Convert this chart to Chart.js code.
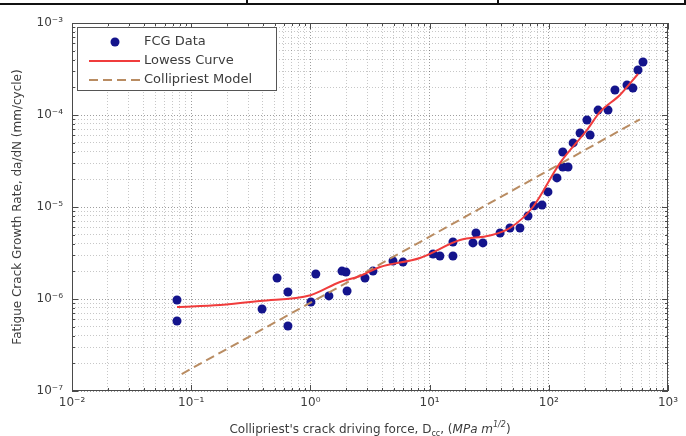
<!DOCTYPE html>
<html>
<head>
<meta charset="utf-8">
<script src="https://cdn.jsdelivr.net/npm/chart.js@4.4.1/dist/chart.umd.min.js"></script>
<style>
  body { margin: 0; background: #fff; }
  #wrap { position: relative; width: 686px; height: 436px; overflow: hidden; }
  .rule { position: absolute; background: #111; }
</style>
</head>
<body>
<div id="wrap">
  <canvas id="fcgChart" width="686" height="436"></canvas>
  <div class="rule" style="left:0;top:3px;width:686px;height:2px"></div>
  <div class="rule" style="left:246px;top:0;width:2px;height:4px"></div>
  <div class="rule" style="left:497px;top:0;width:2px;height:4px"></div>
  <div class="rule" style="left:684px;top:0;width:2px;height:4px"></div>
</div>
<script>
  var fcgX = [0.076, 0.076, 0.393, 0.525, 0.648, 0.648, 1.11, 1.01, 1.43, 1.84, 1.99, 2.03,
    2.87, 3.35, 4.93, 5.98, 10.7, 12.2, 15.7, 15.7, 23.1, 24.5, 28.0, 39.0, 47.2, 57.3,
    66.9, 75.2, 87.7, 98.4, 117, 131, 145, 131, 160, 183, 222, 209, 259, 314, 359, 453,
    508, 560, 617];
  var fcgY = [9.75e-7, 5.77e-7, 7.78e-7, 1.69e-6, 1.19e-6, 5.09e-7, 1.87e-6, 9.27e-7,
    1.08e-6, 2.01e-6, 1.96e-6, 1.22e-6, 1.69e-6, 2.01e-6, 2.59e-6, 2.52e-6, 3.08e-6,
    2.93e-6, 4.17e-6, 2.93e-6, 4.07e-6, 5.21e-6, 4.07e-6, 5.21e-6, 5.91e-6, 5.91e-6,
    7.98e-6, 1.03e-5, 1.05e-5, 1.46e-5, 2.07e-5, 2.72e-5, 2.72e-5, 3.96e-5, 4.97e-5,
    6.37e-5, 6.06e-5, 8.83e-5, 1.13e-4, 1.13e-4, 1.87e-4, 2.12e-4, 1.96e-4, 3.08e-4,
    3.77e-4];

  var lowessX = [0.076, 0.175, 0.378, 1.0, 1.77, 2.61, 3.84, 8.3, 18.0, 32.1, 47.2, 73.6,
    124, 209, 269, 395, 560];
  var lowessY = [8.18e-7, 8.6e-7, 9.5e-7, 1.10e-6, 1.53e-6, 1.78e-6, 2.23e-6, 2.79e-6,
    4.37e-6, 4.9e-6, 5.91e-6, 1.0e-5, 3.0e-5, 6.87e-5, 1.08e-4, 1.65e-4, 2.79e-4];

  var modelX = [0.0832, 5.30, 582];
  var modelY = [1.53e-7, 3.01e-6, 8.97e-5];

  var xDecades = [-2, -1, 0, 1, 2, 3];
  var yDecades = [-7, -6, -5, -4, -3];

  var textColor = "#3c3c3c";
  Chart.defaults.font.family = '"DejaVu Sans", sans-serif';
  Chart.defaults.color = textColor;

  var toXY = (xs, ys) => xs.map((x, i) => ({ x: x, y: ys[i] }));

  var SUP = { "-": "\u207B", "0": "\u2070", "1": "\u00B9", "2": "\u00B2", "3": "\u00B3",
    "4": "\u2074", "5": "\u2075", "6": "\u2076", "7": "\u2077", "8": "\u2078", "9": "\u2079" };
  var sup = (n) => String(n).split("").map((c) => SUP[c]).join("");

  var isDecade = (v) => Math.abs(Math.log10(v) - Math.round(Math.log10(v))) < 1e-6;

  function logTicks(decades) {
    var t = [];
    decades.forEach(function (d, i) {
      var last = i === decades.length - 1;
      for (var m = 1; m <= (last ? 1 : 9); m++) t.push({ value: m * Math.pow(10, d) });
    });
    return t;
  }

  var tickLabel = (v) => (isDecade(v) ? "10" + sup(Math.round(Math.log10(v))) : "");
  var gridColor = (c) =>
    c.tick && isDecade(c.tick.value) ? "rgba(0,0,0,0.38)" : "rgba(0,0,0,0.22)";

  // axes box with inward tick marks, like the matlab figure
  var frame = {
    id: "frame",
    afterDatasetsDraw: function (chart) {
      var ctx = chart.ctx, a = chart.chartArea;
      var sx = chart.scales.x, sy = chart.scales.y;
      ctx.save();
      ctx.strokeStyle = "#4a4a4a";
      ctx.lineWidth = 1;
      ctx.strokeRect(a.left + 0.5, a.top + 0.5, a.right - a.left - 1, a.bottom - a.top - 1);
      ctx.beginPath();
      sx.ticks.forEach(function (t) {
        var px = Math.round(sx.getPixelForValue(t.value)) + 0.5;
        var len = isDecade(t.value) ? 6 : 3;
        ctx.moveTo(px, a.bottom); ctx.lineTo(px, a.bottom - len);
        ctx.moveTo(px, a.top); ctx.lineTo(px, a.top + len);
      });
      sy.ticks.forEach(function (t) {
        var py = Math.round(sy.getPixelForValue(t.value)) + 0.5;
        var len = isDecade(t.value) ? 6 : 3;
        ctx.moveTo(a.left, py); ctx.lineTo(a.left + len, py);
        ctx.moveTo(a.right, py); ctx.lineTo(a.right - len, py);
      });
      ctx.stroke();
      ctx.restore();
    },
  };

  var legendBox = {
    id: "legendBox",
    afterDraw: function (chart) {
      var ctx = chart.ctx;
      var x0 = 77, y0 = 27, w = 199, h = 63;
      ctx.save();
      ctx.fillStyle = "#fff";
      ctx.fillRect(x0, y0, w, h);
      ctx.strokeStyle = "#555";
      ctx.lineWidth = 1;
      ctx.strokeRect(x0 + 0.5, y0 + 0.5, w, h);
      ctx.font = '13px "DejaVu Sans"';
      ctx.textBaseline = "middle";
      chart.data.datasets.forEach(function (ds, i) {
        var y = y0 + 15 + i * 19;
        if (ds.showLine === false) {
          ctx.fillStyle = ds.backgroundColor;
          ctx.beginPath();
          ctx.arc(115, y, ds.pointRadius, 0, Math.PI * 2);
          ctx.fill();
        } else {
          ctx.strokeStyle = ds.borderColor;
          ctx.lineWidth = ds.borderWidth;
          ctx.setLineDash(ds.borderDash || []);
          ctx.beginPath();
          ctx.moveTo(89, y); ctx.lineTo(140, y);
          ctx.stroke();
          ctx.setLineDash([]);
        }
        ctx.fillStyle = textColor;
        ctx.fillText(ds.label, 144, y);
      });
      ctx.restore();
    },
  };

  // x title has a subscript and a superscript, so it is drawn by hand
  var xTitle = {
    id: "xTitle",
    afterDraw: function (chart) {
      var ctx = chart.ctx, a = chart.chartArea;
      var base = 433;
      var parts = [
        { t: "Collipriest's crack driving force, D", f: '12px "DejaVu Sans"', dy: 0 },
        { t: "cc", f: '8px "DejaVu Sans"', dy: 3 },
        { t: ", (", f: '12px "DejaVu Sans"', dy: 0 },
        { t: "MPa m", f: 'italic 12px "DejaVu Sans"', dy: 0 },
        { t: "1/2", f: 'italic 8px "DejaVu Sans"', dy: -6 },
        { t: ")", f: '12px "DejaVu Sans"', dy: 0 },
      ];
      ctx.save();
      ctx.fillStyle = textColor;
      ctx.textBaseline = "alphabetic";
      var total = 0;
      parts.forEach(function (p) { ctx.font = p.f; p.w = ctx.measureText(p.t).width; total += p.w; });
      var x = (a.left + a.right) / 2 - total / 2;
      parts.forEach(function (p) { ctx.font = p.f; ctx.fillText(p.t, x, base + p.dy); x += p.w; });
      ctx.restore();
    },
  };

  var ctx = document.getElementById("fcgChart").getContext("2d");
  var fcgChart = new Chart(ctx, {
    type: "scatter",
    data: {
      datasets: [
        {
          label: "FCG Data",
          data: toXY(fcgX, fcgY),
          showLine: false,
          pointRadius: 4.5,
          pointHoverRadius: 4.5,
          backgroundColor: "#14148c",
          borderColor: "#14148c",
          borderWidth: 0,
          order: 3,
        },
        {
          label: "Lowess Curve",
          data: toXY(lowessX, lowessY),
          showLine: true,
          pointRadius: 0,
          borderColor: "#f03c3c",
          borderWidth: 2,
          cubicInterpolationMode: "monotone",
          order: 1,
        },
        {
          label: "Collipriest Model",
          data: toXY(modelX, modelY),
          showLine: true,
          pointRadius: 0,
          borderColor: "#b98c62",
          borderWidth: 2,
          borderDash: [9, 5],
          order: 2,
        },
      ],
    },
    options: {
      responsive: false,
      animation: false,
      layout: { padding: { left: 0, right: 18, top: 23, bottom: 0 } },
      plugins: { legend: { display: false }, tooltip: { enabled: false } },
      scales: {
        x: {
          type: "logarithmic",
          min: 0.01,
          max: 1000,
          afterBuildTicks: (s) => { s.ticks = logTicks(xDecades); },
          afterFit: (s) => { s.height = 45; },
          ticks: { autoSkip: false, maxRotation: 0, padding: 5, font: { size: 12 }, callback: tickLabel },
          grid: { color: gridColor, lineWidth: 1, drawTicks: false },
          border: { display: false, dash: [1, 2] },
        },
        y: {
          type: "logarithmic",
          min: 1e-7,
          max: 1e-3,
          afterBuildTicks: (s) => { s.ticks = logTicks(yDecades); },
          afterFit: (s) => { s.width = 72; },
          ticks: { autoSkip: false, padding: 9, font: { size: 12 }, callback: tickLabel },
          grid: { color: gridColor, lineWidth: 1, drawTicks: false },
          border: { display: false, dash: [1, 2] },
          title: {
            display: true,
            text: "Fatigue Crack Growth Rate, da/dN (mm/cycle)",
            font: { size: 12 },
            padding: { top: 11, bottom: 0 },
          },
        },
      },
    },
    plugins: [frame, legendBox, xTitle],
  });
</script>
</body>
</html>
